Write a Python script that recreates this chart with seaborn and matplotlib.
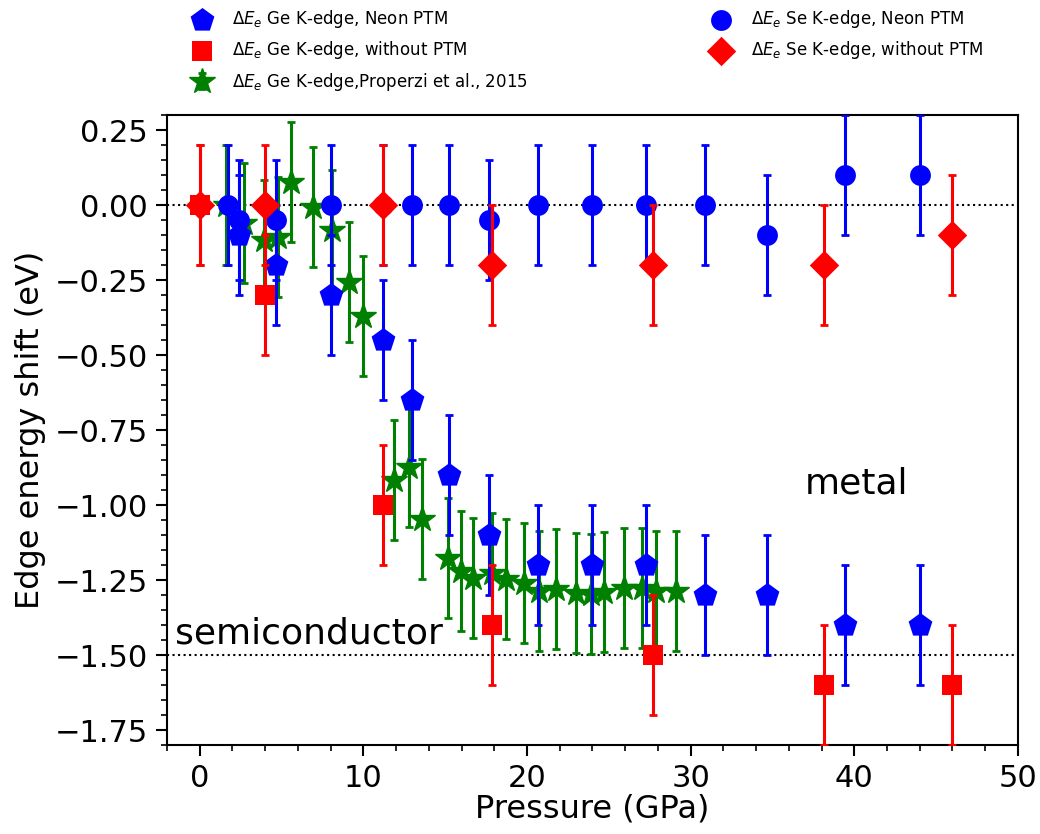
import numpy as np
import pandas as pd
import matplotlib
matplotlib.use("Agg")
import matplotlib.pyplot as plt
from matplotlib.ticker import MultipleLocator
import seaborn as sns

# ---------------- data ----------------
# Ge K-edge, Neon PTM (pentagons)
ge_neon_p = [2.4, 4.65, 8.05, 11.2, 12.95, 15.25, 17.65, 20.7, 24.0, 27.3, 30.9, 34.65, 39.45, 44.0]
ge_neon_e = [-0.1, -0.2, -0.3, -0.45, -0.65, -0.9, -1.1, -1.2, -1.2, -1.2, -1.3, -1.3, -1.4, -1.4]
# Ge K-edge, without PTM (squares)
ge_nopt_p = [0.0, 4.0, 11.2, 17.85, 27.7, 38.15, 45.95]
ge_nopt_e = [0.0, -0.3, -1.0, -1.4, -1.5, -1.6, -1.6]
# Ge K-edge, Properzi et al. 2015 (stars)
prop_p = [1.6, 2.7, 3.9, 4.8, 5.6, 6.9, 8.1, 9.15, 10.0, 11.9, 12.8, 13.6, 15.15, 15.95,
          16.7, 17.85, 18.7, 19.8, 20.75, 21.8, 23.0, 23.9, 24.7, 25.9, 27.0, 27.9, 29.1]
prop_e = [0.0, -0.06, -0.116, -0.108, 0.078, -0.006, -0.082, -0.255, -0.369, -0.916, -0.872,
          -1.046, -1.176, -1.221, -1.242, -1.226, -1.245, -1.259, -1.286, -1.279, -1.292,
          -1.295, -1.289, -1.275, -1.275, -1.286, -1.286]
# Se K-edge, Neon PTM (circles)
se_neon_p = [1.7, 2.4, 4.65, 8.05, 11.2, 12.95, 15.25, 17.65, 20.7, 24.0, 27.3, 30.9, 34.65, 39.45, 44.0]
se_neon_e = [0.0, -0.05, -0.05, 0.0, 0.0, 0.0, 0.0, -0.05, 0.0, 0.0, 0.0, 0.0, -0.1, 0.1, 0.1]
# Se K-edge, without PTM (diamonds)
se_nopt_p = [0.0, 4.0, 11.2, 17.85, 27.7, 38.15, 45.95]
se_nopt_e = [0.0, 0.0, 0.0, -0.2, -0.2, -0.2, -0.1]

err = 0.2
ref_levels = [0.0, -1.5]

# ---------------- figure ----------------
plt.rcParams['font.family'] = ['DejaVu Sans']
plt.rcParams['mathtext.fontset'] = 'dejavusans'

fig = plt.figure(figsize=(10.4, 8.34), dpi=100)
ax = fig.add_axes([0.1606, 0.1067, 0.9788 - 0.1606, 0.8621 - 0.1067])

for lv in ref_levels:
    ax.axhline(lv, color='black', ls=':', lw=1.5, zorder=1)

eb_kw = dict(fmt='none', elinewidth=2.2, capsize=3, capthick=2)

# Properzi stars (errorbar with marker, shows in legend with bars)
h_prop = ax.errorbar(prop_p, prop_e, yerr=err, fmt='*', color='green', ms=19, mec='green',
                     elinewidth=2.2, capsize=3, capthick=2, zorder=2,
                     label=r'$\Delta E_e$ Ge K-edge,Properzi et al., 2015')

def series(xs, ys, color, marker, size, label, z):
    ax.errorbar(xs, ys, yerr=err, ecolor=color, zorder=z, **eb_kw)
    df = pd.DataFrame({'p': xs, 'e': ys})
    sns.scatterplot(data=df, x='p', y='e', ax=ax, color=color, marker=marker, s=size ** 2,
                    linewidth=0, edgecolor=color, zorder=z + 0.5, label=label, legend=False)
    return ax.collections[-1]

h_gn = series(ge_neon_p, ge_neon_e, 'blue', 'p', 18, r'$\Delta E_e$ Ge K-edge, Neon PTM', 3)
h_gw = series(ge_nopt_p, ge_nopt_e, 'red', 's', 15, r'$\Delta E_e$ Ge K-edge, without PTM', 4)
h_sn = series(se_neon_p, se_neon_e, 'blue', 'o', 15, r'$\Delta E_e$ Se K-edge, Neon PTM', 5)
h_sw = series(se_nopt_p, se_nopt_e, 'red', 'D', 15, r'$\Delta E_e$ Se K-edge, without PTM', 6)

ax.text(-1.5, -1.463, 'semiconductor', fontsize=26, ha='left', va='baseline')
ax.text(36.95, -0.963, 'metal', fontsize=26, ha='left', va='baseline')

ax.set_xlim(-2, 50)
ax.set_ylim(-1.8, 0.3)
ax.xaxis.set_major_locator(MultipleLocator(10))
ax.xaxis.set_minor_locator(MultipleLocator(2))
ax.yaxis.set_major_locator(MultipleLocator(0.25))
ax.yaxis.set_minor_locator(MultipleLocator(0.05))
ax.tick_params(which='major', length=8, width=1.5, labelsize=22, direction='out',
               top=False, right=False, pad=6)
ax.tick_params(which='minor', length=4, width=1.2, direction='out', top=False, right=False)
for sp in ax.spines.values():
    sp.set_linewidth(1.5)
    sp.set_color('black')

ax.set_xlabel('Pressure (GPa)', fontsize=23, labelpad=0)
ax.set_ylabel('Edge energy shift (eV)', fontsize=23, labelpad=6)

handles = [h_gn, h_gw, h_prop, h_sn, h_sw]
labels = [r'$\Delta E_e$ Ge K-edge, Neon PTM', r'$\Delta E_e$ Ge K-edge, without PTM',
          r'$\Delta E_e$ Ge K-edge,Properzi et al., 2015',
          r'$\Delta E_e$ Se K-edge, Neon PTM', r'$\Delta E_e$ Se K-edge, without PTM']
fig.legend(handles, labels, loc='upper left', bbox_to_anchor=(0.164, 1.0085), ncol=2,
           frameon=False, fontsize=12, labelspacing=0.57, columnspacing=10.6,
           handletextpad=0.8, scatterpoints=1)

fig.savefig('out.png', dpi=100)
